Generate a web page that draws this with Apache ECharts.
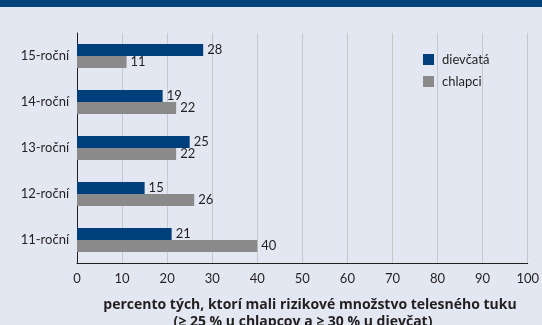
<!DOCTYPE html>
<html>
<head>
<meta charset="utf-8">
<script src="https://cdn.jsdelivr.net/npm/echarts@6/dist/echarts.min.js"></script>
<style>
  html, body { margin: 0; padding: 0; background: #e3e7f2; }
  #chart { width: 542px; height: 325px; }
</style>
</head>
<body>
<div id="chart"></div>
<script>
// Age groups, listed bottom to top along the category axis
const ageGroups = ['11-roční', '12-roční', '13-roční', '14-roční', '15-roční'];
// Share (%) with a risky amount of body fat
const girls = [21, 15, 25, 19, 28];
const boys = [40, 26, 22, 22, 11];
const xTicks = [0, 10, 20, 30, 40, 50, 60, 70, 80, 90, 100];

const FONT = 'Lato';
const TITLE_FONT = 'Open Sans';
const TEXT = '#231f20';
const BLUE = '#003f7b';
const GREY = '#8a8a8a';

const chart = echarts.init(document.getElementById('chart'), null, { renderer: 'canvas' });

const valueLabel = {
  show: true,
  position: 'right',
  distance: 4,
  color: TEXT,
  fontFamily: FONT,
  fontSize: 13
};

chart.setOption({
  backgroundColor: '#e3e7f2',
  animation: false,
  textStyle: { fontFamily: FONT },
  grid: { left: 77, right: 12, top: 33, bottom: 62, containLabel: false },
  legend: {
    orient: 'vertical',
    left: 423,
    top: 53,
    padding: 0,
    itemWidth: 11,
    itemHeight: 11,
    itemGap: 9,
    icon: 'rect',
    textStyle: { color: TEXT, fontFamily: FONT, fontSize: 13, padding: [0, 0, 0, 3] },
    data: ['dievčatá', 'chlapci']
  },
  xAxis: {
    type: 'value',
    min: xTicks[0],
    max: xTicks[xTicks.length - 1],
    interval: xTicks[1] - xTicks[0],
    axisLine: { show: true, lineStyle: { color: TEXT, width: 1 } },
    axisTick: { show: false },
    splitLine: { show: true, lineStyle: { color: '#c5c8ce', width: 1 } },
    axisLabel: { color: TEXT, fontFamily: FONT, fontSize: 13, margin: 9 }
  },
  yAxis: {
    type: 'category',
    data: ageGroups,
    axisLine: { show: true, lineStyle: { color: TEXT, width: 1 } },
    axisTick: { show: false },
    axisLabel: { color: TEXT, fontFamily: FONT, fontSize: 13, margin: 8 }
  },
  series: [
    {
      name: 'dievčatá',
      type: 'bar',
      data: girls,
      barWidth: 12,
      barGap: '0%',
      itemStyle: { color: BLUE },
      label: valueLabel
    },
    {
      name: 'chlapci',
      type: 'bar',
      data: boys,
      barWidth: 12,
      barGap: '0%',
      itemStyle: { color: GREY },
      label: valueLabel
    }
  ],
  graphic: [
    {
      type: 'rect',
      left: 0,
      top: 0,
      shape: { width: 542, height: 7 },
      style: { fill: '#00427a' },
      silent: true
    },
    {
      type: 'text',
      x: 310,
      y: 305,
      style: {
        text: 'percento tých, ktorí mali rizikové množstvo telesného tuku',
        fill: TEXT,
        font: 'bold 14px "' + TITLE_FONT + '"',
        textAlign: 'center',
        textVerticalAlign: 'middle'
      }
    },
    {
      type: 'text',
      x: 303,
      y: 322,
      style: {
        text: '(≥ 25 % u chlapcov a ≥ 30 % u dievčat)',
        fill: TEXT,
        font: 'bold 14px "' + TITLE_FONT + '"',
        textAlign: 'center',
        textVerticalAlign: 'middle'
      }
    }
  ]
});
</script>
</body>
</html>
